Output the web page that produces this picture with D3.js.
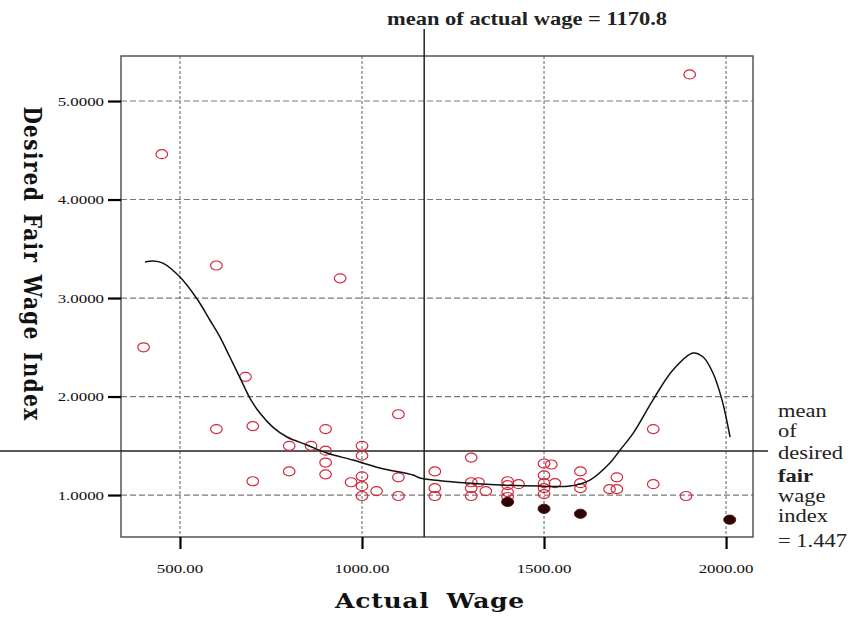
<!DOCTYPE html>
<html>
<head>
<meta charset="utf-8">
<script src="https://cdn.jsdelivr.net/npm/d3@7"></script>
<style>
  html, body { margin: 0; padding: 0; background: #fff; }
  svg { display: block; }
</style>
</head>
<body>
<svg id="chart" width="855" height="619"></svg>
<script>
// Actual wage vs. desired fair wage index (open circles)
const wage = [400, 450, 600, 600, 680, 700, 700, 800, 800, 860, 900, 900, 900, 900,
  940, 970, 1000, 1000, 1000, 1000, 1000, 1040, 1100, 1100, 1100,
  1200, 1200, 1200, 1300, 1300, 1300, 1300, 1320, 1340,
  1400, 1400, 1400, 1400, 1430, 1500, 1520, 1500, 1500, 1500, 1500, 1530,
  1600, 1600, 1600, 1700, 1680, 1700, 1800, 1800, 1890, 1900];
const fairIndex = [2.50, 4.46, 3.33, 1.67, 2.20, 1.70, 1.14, 1.50, 1.24, 1.50, 1.67, 1.45, 1.33, 1.21,
  3.20, 1.13, 1.50, 1.40, 1.19, 1.09, 0.99, 1.04, 1.82, 1.18, 0.99,
  1.24, 1.07, 0.99, 1.38, 1.13, 1.07, 0.99, 1.13, 1.04,
  1.14, 1.10, 1.03, 0.98, 1.11, 1.32, 1.31, 1.20, 1.12, 1.07, 1.01, 1.12,
  1.24, 1.12, 1.07, 1.18, 1.06, 1.06, 1.67, 1.11, 0.99, 5.27];

// Highlighted cases (filled markers)
const wageLow = [1400, 1500, 1600, 2010];
const fairIndexLow = [0.93, 0.86, 0.81, 0.75];

// Smoothed fit line
const fitWage = [404, 426, 453, 500, 547, 582, 610, 637, 665, 692, 720, 755, 794, 849, 904, 975,
  1049, 1140, 1159, 1288, 1379, 1489, 1571, 1626, 1681, 1709, 1745, 1799, 1854, 1909, 1937,
  1964, 1989, 2011];
const fitIndex = [3.365, 3.376, 3.355, 3.213, 2.990, 2.777, 2.604, 2.401, 2.190, 1.985, 1.830,
  1.690, 1.589, 1.508, 1.426, 1.355, 1.274, 1.203, 1.173, 1.122, 1.102, 1.091, 1.091, 1.152,
  1.325, 1.457, 1.629, 1.964, 2.269, 2.442, 2.401, 2.239, 1.964, 1.589];

const xTicks = [500, 1000, 1500, 2000];
const yTicks = [1, 2, 3, 4, 5];
const meanWage = 1170.8;
const meanIndex = 1.447;
const meanWageLabel = "mean of actual wage = 1170.8";
const meanIndexLabel = ["mean", "of", "desired", "fair", "wage", "index", "= 1.447"];
const xTitle = "Actual Wage";
const yTitle = "Desired Fair Wage Index";

const svg = d3.select("#chart");
const SX = 1.25; // horizontal text stretch

const xDom = [338, 2074];
const yDom = [0.574, 5.457];
const x = d3.scaleLinear().domain(xDom).range([121, 753]);
const y = d3.scaleLinear().domain(yDom).range([537, 56]);
const pLeft = x(xDom[0]), pRight = x(xDom[1]), pTop = y(yDom[1]), pBottom = y(yDom[0]);

const serif = "'Liberation Serif', 'Times New Roman', serif";

// grid
const grid = svg.append("g");
grid.selectAll("line.vg").data(xTicks).join("line")
  .attr("x1", d => x(d)).attr("x2", d => x(d))
  .attr("y1", pTop).attr("y2", pBottom)
  .attr("stroke", "#7a7a7a").attr("stroke-width", 1.2).attr("stroke-dasharray", "3,2");
grid.selectAll("line.hg").data(yTicks).join("line")
  .attr("x1", pLeft).attr("x2", pRight)
  .attr("y1", d => y(d)).attr("y2", d => y(d))
  .attr("stroke", "#7a7a7a").attr("stroke-width", 1.2).attr("stroke-dasharray", "6,3");

// frame
svg.append("rect")
  .attr("x", pLeft).attr("y", pTop)
  .attr("width", pRight - pLeft).attr("height", pBottom - pTop)
  .attr("fill", "none").attr("stroke", "#555").attr("stroke-width", 1.5);

// axes tick marks
const yAxis = svg.append("g").attr("transform", `translate(${pLeft},0)`)
  .call(d3.axisLeft(y).tickValues(yTicks).tickSize(13).tickFormat(""));
const xAxis = svg.append("g").attr("transform", `translate(0,${pBottom})`)
  .call(d3.axisBottom(x).tickValues(xTicks).tickSize(12).tickFormat(""));
[xAxis, yAxis].forEach(a => {
  a.select(".domain").remove();
  a.selectAll(".tick line").attr("stroke", "#000").attr("stroke-width", 2.2);
});

// tick labels
const fy = d3.format(".4f"), fx = d3.format(".2f");
svg.append("g").selectAll("g").data(yTicks).join("g")
  .attr("transform", d => `translate(104,${y(d) + 4.5}) scale(${SX},1)`)
  .append("text").attr("text-anchor", "end")
  .attr("font-family", serif).attr("font-size", 13.5).attr("fill", "#111")
  .text(d => fy(d));
svg.append("g").selectAll("g").data(xTicks).join("g")
  .attr("transform", d => `translate(${x(d)},573) scale(${SX},1)`)
  .append("text").attr("text-anchor", "middle")
  .attr("font-family", serif).attr("font-size", 13.5).attr("fill", "#111")
  .text(d => fx(d));

// mean reference lines
svg.append("line")
  .attr("x1", x(meanWage)).attr("x2", x(meanWage))
  .attr("y1", 29).attr("y2", pBottom)
  .attr("stroke", "#222").attr("stroke-width", 1.5);
svg.append("line")
  .attr("x1", 0).attr("x2", 768)
  .attr("y1", y(meanIndex)).attr("y2", y(meanIndex))
  .attr("stroke", "#222").attr("stroke-width", 1.5);

// data points
svg.append("g").selectAll("ellipse").data(d3.range(wage.length)).join("ellipse")
  .attr("cx", i => x(wage[i])).attr("cy", i => y(fairIndex[i]))
  .attr("rx", 5.8).attr("ry", 4.5)
  .attr("fill", "none").attr("stroke", "#d4283c").attr("stroke-width", 1.2);
svg.append("g").selectAll("ellipse").data(d3.range(wageLow.length)).join("ellipse")
  .attr("cx", i => x(wageLow[i])).attr("cy", i => y(fairIndexLow[i]))
  .attr("rx", 6).attr("ry", 4.6)
  .attr("fill", "#2a0606").attr("stroke", "#5a1010").attr("stroke-width", 1);

// fit line
const line = d3.line().x(i => x(fitWage[i])).y(i => y(fitIndex[i])).curve(d3.curveCatmullRom);
svg.append("path").datum(d3.range(fitWage.length))
  .attr("d", line).attr("fill", "none").attr("stroke", "#111").attr("stroke-width", 1.5);

// mean labels
svg.append("g").attr("transform", `translate(527,25) scale(${SX},1)`)
  .append("text").attr("text-anchor", "middle")
  .attr("font-family", serif).attr("font-size", 18).attr("font-weight", "bold").attr("fill", "#222")
  .text(meanWageLabel);

const baselines = [417, 437, 459, 482, 502, 522, 547];
svg.append("g").selectAll("g").data(meanIndexLabel).join("g")
  .attr("transform", (d, i) => `translate(778,${baselines[i]}) scale(${SX},1)`)
  .append("text")
  .attr("font-family", serif).attr("font-size", 18).attr("fill", "#222")
  .attr("font-weight", d => d === "fair" ? "bold" : "normal")
  .text(d => d);

// axis titles
svg.append("g").attr("transform", `translate(430,608) scale(${SX},1)`)
  .append("text").attr("text-anchor", "middle")
  .attr("font-family", "'DejaVu Serif', serif").attr("font-weight", "bold")
  .attr("font-size", 20).attr("letter-spacing", 0.6).attr("word-spacing", 6).attr("fill", "#111")
  .text(xTitle);
svg.append("g").attr("transform", `translate(24,264) scale(${SX},1) rotate(90)`)
  .append("text").attr("text-anchor", "middle")
  .attr("font-family", "'DejaVu Serif', serif").attr("font-weight", "bold")
  .attr("font-size", 20).attr("letter-spacing", 1.4).attr("word-spacing", 3).attr("fill", "#111")
  .text(yTitle);
</script>
</body>
</html>
